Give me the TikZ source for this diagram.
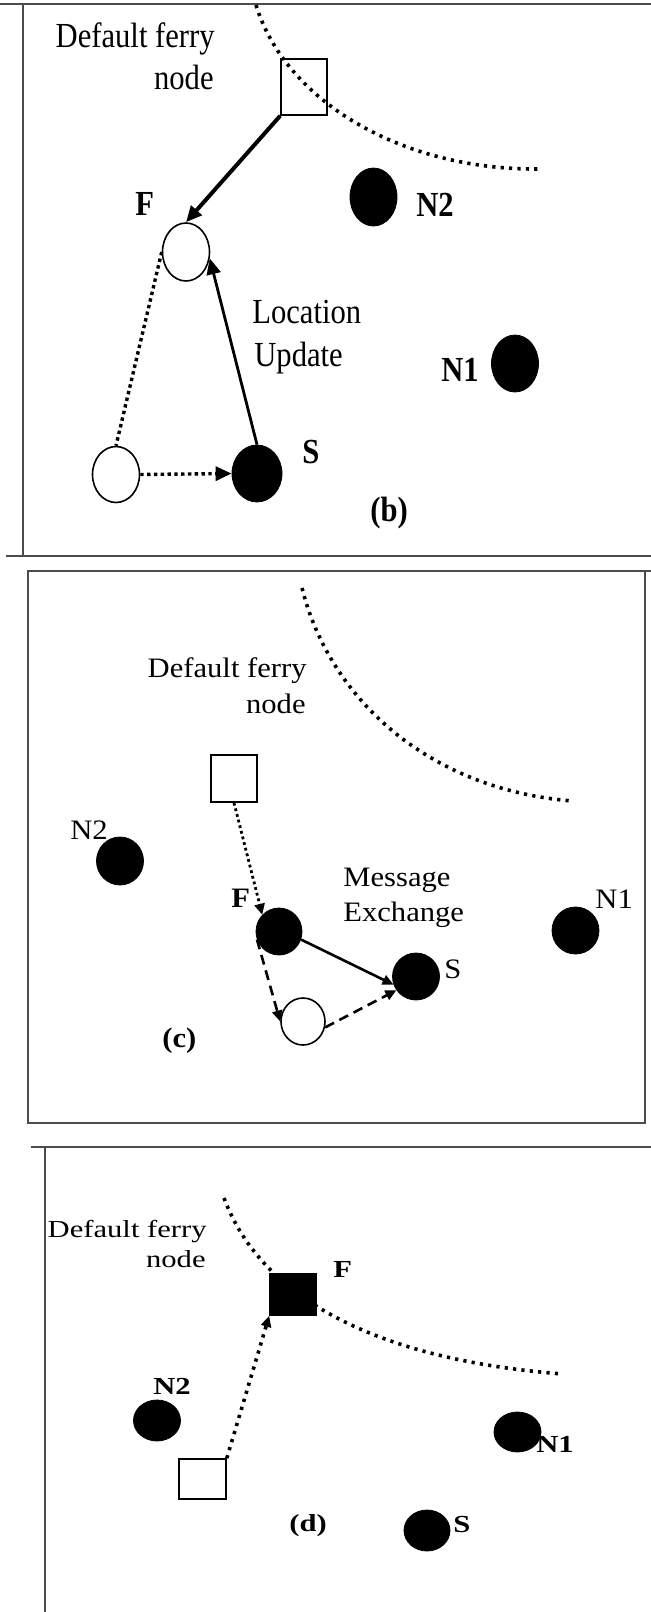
\documentclass[tikz,border=0pt]{standalone}
\usepackage{fontspec}
\setmainfont{Liberation Serif}
\usepackage{graphicx}
\usetikzlibrary{shapes.geometric,arrows.meta}

% text is squeezed or stretched a little per panel
\newcommand{\textstretch}{1}
\newcommand{\stretchy}[1]{\scalebox{1}[\textstretch]{#1}}

\tikzset{
  frame/.style={draw=black!70, line width=1pt},
  zone/.style={line width=1.8pt, dash pattern=on 1.6pt off 2.6pt},
  hop/.style={line width=1.7pt, dash pattern=on 1.7pt off 1.7pt},
  swap/.style={line width=1.3pt, dash pattern=on 5pt off 3pt},
  busy/.style={ellipse, draw, fill=black, inner sep=0pt, minimum width=23.5pt, minimum height=#1},
  busy/.default=24pt,
  idle/.style={ellipse, draw, line width=0.8pt, fill=white, inner sep=0pt, minimum width=23.5pt, minimum height=#1},
  idle/.default=24pt,
  ferry/.style={rectangle, draw, line width=0.8pt, inner sep=0pt, minimum width=23pt, minimum height=#1},
  ferry/.default=23pt,
  txt/.style={inner sep=0pt, font=\fontsize{15.3}{18}\selectfont},
  tag/.style={txt, font=\fontsize{15.3}{18}\selectfont\bfseries},
  big/.style={-{Triangle[length=8pt,width=7pt]}},
  small/.style={-{Triangle[length=5.5pt,width=5pt]}}
}

\begin{document}
\begin{tikzpicture}[x=0.5pt, y=-0.5pt]
\useasboundingbox (0,0) rectangle (651,1612);

% ---- panel (b)
\begin{scope}
\renewcommand{\textstretch}{1.15}
\draw[frame] (0,4) -- (651,4);
\draw[frame] (23,4) -- (23,556);
\draw[frame] (6,556) -- (651,556);
\draw[zone] (256,5) .. controls (285,100) and (400,170) .. (538,169);
\node (defb1) [txt, anchor=base east] at (215,47) {\stretchy{Default ferry}};
\node (defb2) [txt, anchor=base east] at (214,89) {\stretchy{node}};
\node (sqb) [ferry=28pt] at (304,87) {};
\node (Fb) [idle=29pt] at (186,252) {};
\node (N2b) [busy=29pt] at (373.5,197) {};
\node (N1b) [busy=28.5pt] at (515,363.5) {};
\node (oldb) [idle=28pt] at (116,474.5) {};
\node (Sb) [busy=28.5pt, minimum width=25pt] at (257,473.5) {};
\node (tFb) [tag, anchor=base west] at (135,215) {\stretchy{F}};
\node (tN2b) [tag, anchor=base west] at (416,216) {\stretchy{N2}};
\node (tN1b) [tag, anchor=base west] at (441,381) {\stretchy{N1}};
\node (tSb) [tag, anchor=base west] at (302,463) {\stretchy{S}};
\node (locb1) [txt, anchor=base west] at (252,323) {\stretchy{Location}};
\node (locb2) [txt, anchor=base west] at (254,366) {\stretchy{Update}};
\node (capb) [tag, anchor=base west] at (370,521) {\stretchy{(b)}};
\draw[big, line width=2pt] (sqb.south west) -- (Fb.north);
\draw[hop] (Fb.west) -- (oldb.north);
\draw[hop, big] (oldb.east) -- (Sb.west);
\draw[big, line width=1.4pt] (Sb.north) -- (Fb.-15);
\end{scope}

% ---- panel (c)
\begin{scope}
\renewcommand{\textstretch}{0.92}
\draw[frame] (28,571) rectangle (644.5,1123);
\draw[frame] (644.5,571) -- (651,571);
\draw[zone] (302,588) .. controls (330,700) and (430,790) .. (573,801);
\node (defc1) [txt, anchor=base east] at (307,677) {\stretchy{Default ferry}};
\node (defc2) [txt, anchor=base east] at (306,713) {\stretchy{node}};
\node (sqc) [ferry=23.5pt] at (234,778.5) {};
\node (N2c) [busy] at (120,861) {};
\node (Fc) [busy=23.5pt, minimum width=23pt] at (279,931.5) {};
\node (N1c) [busy=23.5pt] at (575.5,930.5) {};
\node (Sc) [busy=23.5pt] at (416,976.5) {};
\node (oldc) [idle=23.5pt, minimum width=22pt] at (303,1021.5) {};
\node (tN2c) [txt, anchor=base west] at (70,839) {\stretchy{N2}};
\node (tFc) [tag, anchor=base west] at (231,907) {\stretchy{F}};
\node (tN1c) [txt, anchor=base west] at (595,908) {\stretchy{N1}};
\node (tSc) [txt, anchor=base west] at (444,978) {\stretchy{S}};
\node (msgc1) [txt, anchor=base west] at (343,886) {\stretchy{Message}};
\node (msgc2) [txt, anchor=base west] at (343,921) {\stretchy{Exchange}};
\node (capc) [tag, anchor=base west] at (162,1047) {\stretchy{(c)}};
\draw[hop, small, line width=1.4pt, dash pattern=on 1.4pt off 1.5pt] (sqc.south) -- (Fc.135);
\draw[small, line width=1.3pt] (Fc.-20) -- (Sc.200);
\draw[swap, small] (Fc.200) -- (oldc.west);
\draw[swap, small] (oldc.-15) -- (Sc.215);
\end{scope}

% ---- panel (d)
\begin{scope}
\renewcommand{\textstretch}{0.8}
\draw[frame] (31,1146.5) -- (651,1146.5);
\draw[frame] (45,1146.5) -- (45,1612);
\draw[zone] (224,1198) .. controls (262,1300) and (380,1360) .. (563,1374);
\node (defd1) [txt, anchor=base east] at (207,1237) {\stretchy{Default ferry}};
\node (defd2) [txt, anchor=base east] at (206,1267) {\stretchy{node}};
\node (sqd) [ferry=20.5pt, fill=black] at (293,1294.5) {};
\node (oldd) [ferry=20pt, minimum width=23.5pt] at (202.5,1479) {};
\node (N2d) [busy=20.5pt] at (157,1420.5) {};
\node (N1d) [busy=20pt] at (517.5,1432) {};
\node (Sd) [busy=20.5pt, minimum width=23pt] at (427,1530.5) {};
\node (tFd) [tag, anchor=base west] at (333,1277) {\stretchy{F}};
\node (tN2d) [tag, anchor=base west] at (153,1394) {\stretchy{N2}};
\node (tN1d) [tag, anchor=base west] at (536,1452) {\stretchy{N1}};
\node (tSd) [tag, anchor=base west] at (453,1532) {\stretchy{S}};
\node (capd) [tag, anchor=base west] at (289,1531) {\stretchy{(d)}};
\draw[zone, small] (oldd.north east) -- (sqd.south west);
\end{scope}
\end{tikzpicture}
\end{document}
